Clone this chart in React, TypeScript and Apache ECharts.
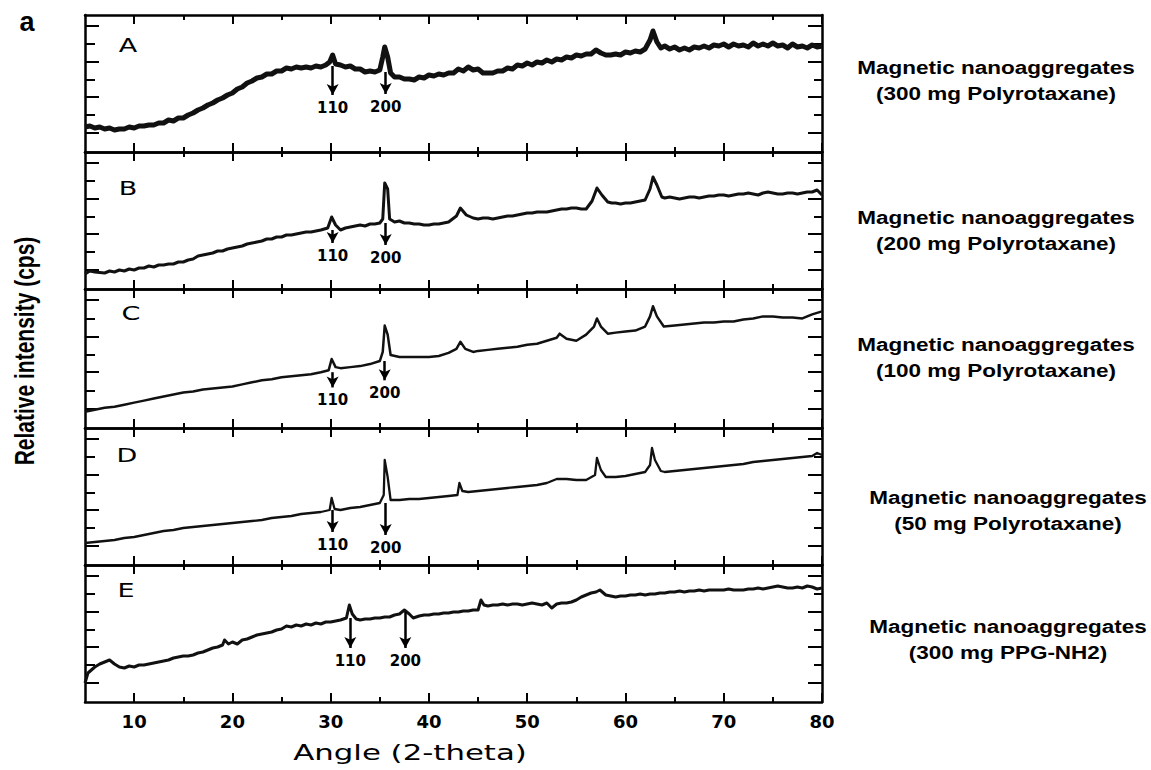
import React, { useEffect, useRef } from "react";
import * as echarts from "echarts";

// ---------- data ----------
const angleMin = 5;
const angleMax = 80;
const majorAngles = [10, 20, 30, 40, 50, 60, 70, 80];
const minorAngles = [15, 25, 35, 45, 55, 65, 75];
const intensityMax = 137;
const majorIntensityTicks = [19, 55, 90, 126];
const minorIntensityTicks = [37, 72, 108];

const panelLetters = ["A", "B", "C", "D", "E"];
const sampleNames = [
  "Magnetic nanoaggregates\n(300 mg Polyrotaxane)",
  "Magnetic nanoaggregates\n(200 mg Polyrotaxane)",
  "Magnetic nanoaggregates\n(100 mg Polyrotaxane)",
  "Magnetic nanoaggregates\n(50 mg Polyrotaxane)",
  "Magnetic nanoaggregates\n(300 mg PPG-NH2)",
];

const traceA: [number, number][] = [
  [5, 25], [5.5, 26], [6, 24], [6.5, 25], [7, 23], [7.5, 24], [8, 22], [8.5, 23], [9, 23], [9.5, 25], [10, 24],
  [10.5, 26], [11, 26], [11.5, 27], [12, 27], [12.5, 29], [13, 29], [13.5, 32], [14, 31], [14.5, 34], [15, 34],
  [15.5, 37], [16, 39], [16.5, 42], [17, 44], [17.5, 47], [18, 49], [18.5, 52], [19, 54], [19.5, 57], [20, 59],
  [20.5, 63], [21, 65], [21.5, 69], [22, 71], [22.5, 74], [23, 75], [23.5, 78], [24, 78], [24.5, 81], [25, 81],
  [25.5, 84], [26, 83], [26.5, 85], [27, 84], [27.5, 85], [28, 84], [28.5, 86], [29, 85], [29.5, 87], [29.9, 90],
  [30.2, 97], [30.5, 88], [31, 87], [31.5, 85], [32, 86], [32.5, 83], [33, 83], [33.5, 80], [34, 81], [34.5, 80],
  [35, 82], [35.3, 95], [35.5, 105], [35.8, 95], [36.1, 79], [36.5, 75], [37, 75], [37.5, 73], [38, 73], [38.5, 72],
  [39, 75], [39.5, 74], [40, 77], [40.5, 76], [41, 78], [41.5, 77], [42, 79], [42.5, 79], [43, 83], [43.5, 81],
  [44, 85], [44.5, 82], [45, 83], [45.5, 79], [46, 79], [46.5, 79], [47, 81], [47.5, 81], [48, 84], [48.5, 83],
  [49, 87], [49.5, 86], [50, 89], [50.5, 87], [51, 90], [51.5, 89], [52, 92], [52.5, 90], [53, 93], [53.5, 92],
  [54, 95], [54.5, 94], [55, 97], [55.5, 96], [56, 98], [56.5, 98], [57, 102], [57.5, 99], [58, 97], [58.5, 97],
  [59, 98], [59.5, 97], [60, 100], [60.5, 99], [61, 101], [61.5, 100], [62, 103], [62.5, 112], [62.8, 121],
  [63.2, 110], [63.6, 104], [64, 106], [64.5, 103], [65, 105], [65.5, 102], [66, 104], [66.5, 102], [67, 105],
  [67.5, 104], [68, 106], [68.5, 104], [69, 107], [69.5, 106], [70, 108], [70.5, 105], [71, 108], [71.5, 106],
  [72, 107], [72.5, 105], [73, 109], [73.5, 106], [74, 108], [74.5, 106], [75, 109], [75.5, 106], [76, 107],
  [76.5, 104], [77, 108], [77.5, 105], [78, 106], [78.5, 104], [79, 107], [79.5, 105], [80, 106],
];

const traceB: [number, number][] = [
  [5, 15], [5.5, 18], [6, 17], [7, 16], [7.5, 18], [8, 17], [8.5, 19], [9, 18], [9.5, 20], [10, 19], [10.5, 21],
  [11, 21], [11.5, 23], [12, 22], [12.5, 24], [13, 24], [13.5, 25], [14, 25], [14.5, 27], [15, 27], [15.5, 29],
  [16, 30], [16.5, 33], [17, 34], [17.5, 35], [18, 36], [18.5, 38], [19, 38], [19.5, 40], [20, 41], [20.5, 42],
  [21, 43], [21.5, 45], [22, 46], [22.5, 47], [23, 48], [23.5, 50], [24, 50], [24.5, 52], [25, 52], [25.5, 54],
  [26, 54], [26.5, 55], [27, 56], [27.5, 57], [28, 57], [28.5, 58], [29, 59], [29.7, 61], [30.1, 72], [30.5, 64],
  [31, 59], [31.5, 61], [32, 62], [32.5, 63], [33, 64], [33.5, 63], [34, 65], [34.5, 65], [35, 66], [35.3, 70],
  [35.5, 106], [35.8, 100], [36, 70], [36.5, 67], [37, 68], [37.5, 66], [38, 66], [38.5, 65], [39, 65], [39.5, 64],
  [40, 64], [40.5, 65], [41, 65], [41.5, 66], [42, 67], [42.8, 73], [43.2, 81], [43.8, 74], [44.5, 71], [45, 70],
  [45.5, 71], [46, 71], [46.5, 70], [47, 71], [47.5, 72], [48, 73], [48.5, 73], [49, 74], [49.5, 75], [50, 76],
  [50.5, 76], [51, 77], [51.5, 77], [52, 77], [52.5, 78], [53, 79], [53.5, 80], [54, 80], [54.5, 81], [55, 81],
  [55.5, 80], [56, 80], [56.6, 88], [57.1, 101], [57.6, 94], [58.2, 87], [58.6, 86], [59, 86], [59.5, 85],
  [60, 86], [60.5, 86], [61, 87], [61.5, 88], [62, 89], [62.5, 100], [62.8, 112], [63.2, 104], [63.7, 92],
  [64, 91], [64.5, 92], [65, 91], [65.5, 90], [66, 91], [66.5, 92], [67, 92], [67.5, 91], [68, 92], [68.5, 93],
  [69, 93], [69.5, 94], [70, 94], [70.5, 93], [71, 94], [71.5, 95], [72, 95], [72.5, 96], [73, 95], [73.5, 94],
  [74, 96], [74.5, 97], [75, 96], [75.5, 95], [76, 95], [76.5, 96], [77, 96], [77.5, 95], [78, 96], [78.5, 97],
  [79, 97], [79.5, 99], [80, 94],
];

const traceC: [number, number][] = [
  [5, 16], [6, 18], [7, 20], [8, 21], [9, 23], [10, 25], [11, 27], [12, 29], [13, 31], [14, 33], [15, 35],
  [16, 36], [17, 38], [18, 39], [19, 40], [20, 41], [21, 43], [22, 45], [23, 47], [24, 48], [25, 50], [26, 51],
  [27, 52], [28, 53], [29, 55], [29.8, 57], [30.1, 68], [30.5, 60], [31, 59], [32, 60], [33, 61], [34, 63],
  [35, 66], [35.3, 75], [35.5, 101], [35.8, 92], [36.1, 72], [37, 70], [38, 70], [39, 70], [40, 70], [41, 71],
  [42, 74], [42.8, 78], [43.2, 85], [43.7, 78], [44.5, 75], [45, 76], [46, 77], [47, 78], [48, 79], [49, 80],
  [50, 82], [51, 83], [52, 86], [53, 89], [53.3, 93], [54, 88], [55, 86], [56, 92], [56.8, 100], [57.1, 108],
  [57.5, 100], [58.2, 93], [59, 94], [60, 95], [61, 96], [62, 100], [62.5, 110], [62.8, 120], [63.2, 110],
  [63.9, 100], [65, 101], [66, 102], [67, 103], [68, 104], [69, 104], [70, 105], [71, 105], [72, 107], [73, 108],
  [74, 110], [75, 110], [76, 109], [77, 109], [78, 108], [79, 112], [80, 115],
];

const traceD: [number, number][] = [
  [5, 22], [6, 23], [7, 24], [8, 25], [9, 27], [10, 28], [11, 30], [12, 32], [13, 34], [14, 35], [15, 37],
  [16, 38], [17, 39], [18, 40], [19, 41], [20, 42], [21, 43], [22, 44], [23, 45], [24, 47], [25, 48], [26, 49],
  [27, 51], [28, 52], [29, 53], [29.9, 55], [30.1, 67], [30.4, 56], [31, 55], [32, 57], [33, 58], [34, 60],
  [35, 62], [35.4, 70], [35.5, 105], [35.8, 88], [36.1, 65], [37, 65], [38, 66], [39, 66], [40, 67], [41, 68],
  [42, 69], [42.9, 70], [43.1, 82], [43.4, 74], [44, 73], [45, 74], [46, 75], [47, 76], [48, 77], [49, 78],
  [50, 79], [51, 80], [52, 82], [53, 86], [54, 86], [55, 85], [56, 85], [56.9, 90], [57.1, 107], [57.5, 95],
  [58, 88], [59, 88], [60, 89], [61, 91], [62, 93], [62.5, 100], [62.7, 117], [63, 105], [63.6, 94], [64, 93],
  [65, 94], [66, 95], [67, 96], [68, 97], [69, 98], [70, 99], [71, 100], [72, 101], [73, 103], [74, 104],
  [75, 105], [76, 106], [77, 107], [78, 108], [79, 109], [79.5, 112], [80, 110],
];

const traceE: [number, number][] = [
  [5, 19], [5.3, 29], [6, 35], [6.5, 38], [7, 40], [7.5, 42], [8, 38], [8.5, 35], [9, 34], [9.5, 36], [10, 35],
  [10.5, 37], [11, 37], [11.5, 38], [12, 39], [12.5, 40], [13, 41], [13.5, 42], [14, 44], [14.5, 45], [15, 46],
  [15.5, 46], [16, 47], [16.5, 49], [17, 50], [17.5, 52], [18, 54], [18.5, 55], [19, 57], [19.2, 62], [19.6, 58],
  [20, 60], [20.5, 58], [21, 62], [21.5, 63], [22, 65], [22.5, 67], [23, 68], [23.5, 69], [24, 70], [24.5, 72],
  [25, 73], [25.5, 76], [26, 75], [26.5, 77], [27, 76], [27.5, 78], [28, 77], [28.5, 79], [29, 78], [29.5, 80],
  [30, 80], [30.5, 81], [31, 82], [31.6, 84], [31.9, 97], [32.2, 88], [32.6, 83], [33, 82], [33.5, 83], [34, 83],
  [34.5, 84], [35, 84], [35.5, 85], [36, 85], [36.5, 87], [37, 88], [37.5, 92], [38, 88], [38.4, 84], [39, 86],
  [39.5, 87], [40, 87], [40.5, 88], [41, 88], [41.5, 89], [42, 89], [42.5, 90], [43, 90], [43.5, 91], [44, 91],
  [44.5, 92], [45, 92], [45.3, 102], [45.6, 97], [46, 96], [46.5, 97], [47, 97], [47.5, 98], [48, 97], [48.5, 98],
  [49, 98], [49.5, 97], [50, 98], [50.5, 99], [51, 98], [51.5, 97], [52, 99], [52.5, 94], [53, 98], [53.5, 99],
  [54, 99], [54.5, 100], [55, 102], [55.5, 105], [56, 107], [56.5, 109], [57, 110], [57.4, 112], [58, 107],
  [58.5, 106], [59, 105], [59.5, 106], [60, 106], [60.5, 107], [61, 107], [61.5, 108], [62, 107], [62.5, 108],
  [63, 108], [63.5, 109], [64, 109], [64.5, 110], [65, 110], [65.5, 111], [66, 110], [66.5, 111], [67, 111],
  [67.5, 112], [68, 111], [68.5, 112], [69, 112], [69.5, 112], [70, 112], [70.5, 113], [71, 112], [71.5, 112],
  [72, 112], [72.5, 113], [73, 113], [73.5, 114], [74, 113], [74.5, 114], [75, 115], [75.5, 116], [76, 115],
  [76.5, 114], [77, 114], [77.5, 115], [78, 114], [78.5, 116], [79, 115], [79.5, 113], [80, 114],
];

const traces = [traceA, traceB, traceC, traceD, traceE];

// reflection arrows: [angle, from intensity, to intensity]
const arrows110: [number, number, number][] = [
  [30.2, 86, 57], [30.2, 59, 46], [30.2, 55, 40], [30.2, 55, 33], [32.0, 84, 54],
];
const arrows200: [number, number, number][] = [
  [35.6, 80, 58], [35.6, 66, 44], [35.5, 66, 47], [35.6, 62, 30], [37.6, 90, 54],
];

// ---------- layout ----------
const gridTops = [15, 152, 289, 428, 565];
const gridHeights = [137, 137, 139, 137, 137];
const gridLeft = 85;
const gridWidth = 737;
const lineWidths = [5, 3, 2.5, 2.3, 3];
const letterPos = [[128, 45], [128, 188], [131, 313], [127, 455], [126, 590]];
const namePos = [[996, 81], [996, 231], [996, 358], [1008, 511], [1008, 640]];

const BLACK = "#000";

export default function App() {
  const ref = useRef<HTMLDivElement>(null);

  useEffect(() => {
    document.body.style.margin = "0";
    if (!ref.current) return;
    const chart = echarts.init(ref.current, undefined, { renderer: "svg" });

    const grids: any[] = [];
    const xAxes: any[] = [];
    const yAxes: any[] = [];
    const series: any[] = [];
    const tickLine = { color: BLACK, width: 2 };
    const frameLine = { color: BLACK, width: 2.5 };

    for (let i = 0; i < 5; i++) {
      grids.push({ left: gridLeft, width: gridWidth, top: gridTops[i], height: gridHeights[i] });
      const xb = { type: "value", gridIndex: i, min: angleMin, max: angleMax, splitLine: { show: false } };
      xAxes.push({
        ...xb,
        position: "bottom",
        axisLine: { show: true, onZero: false, lineStyle: frameLine },
        axisTick: { show: true, inside: true, length: 9, customValues: majorAngles, lineStyle: tickLine },
        axisLabel:
          i === 4
            ? {
                show: true,
                customValues: majorAngles,
                fontFamily: "DejaVu Sans",
                fontWeight: "bold",
                fontSize: 18,
                color: BLACK,
                margin: 10,
              }
            : { show: false },
      });
      xAxes.push({
        ...xb,
        position: "bottom",
        axisLine: { show: false, onZero: false },
        axisTick: { show: true, inside: true, length: 5, customValues: minorAngles, lineStyle: tickLine },
        axisLabel: { show: false },
      });
      xAxes.push({
        ...xb,
        position: "top",
        axisLine: { show: true, onZero: false, lineStyle: frameLine },
        axisTick: { show: true, inside: true, length: 9, customValues: majorAngles, lineStyle: tickLine },
        axisLabel: { show: false },
      });
      xAxes.push({
        ...xb,
        position: "top",
        axisLine: { show: false, onZero: false },
        axisTick: { show: true, inside: true, length: 5, customValues: minorAngles, lineStyle: tickLine },
        axisLabel: { show: false },
      });

      const yb = { type: "value", gridIndex: i, min: 0, max: intensityMax, splitLine: { show: false }, axisLabel: { show: false } };
      yAxes.push({
        ...yb,
        position: "left",
        axisLine: { show: true, onZero: false, lineStyle: frameLine },
        axisTick: { show: true, inside: true, length: 14, customValues: majorIntensityTicks, lineStyle: tickLine },
      });
      yAxes.push({
        ...yb,
        position: "left",
        axisLine: { show: false, onZero: false },
        axisTick: { show: true, inside: true, length: 10, customValues: minorIntensityTicks, lineStyle: tickLine },
      });
      yAxes.push({
        ...yb,
        position: "right",
        axisLine: { show: true, onZero: false, lineStyle: frameLine },
        axisTick: { show: true, inside: true, length: 14, customValues: majorIntensityTicks, lineStyle: tickLine },
      });
      yAxes.push({
        ...yb,
        position: "right",
        axisLine: { show: false, onZero: false },
        axisTick: { show: true, inside: true, length: 8, customValues: minorIntensityTicks, lineStyle: tickLine },
      });

      const a1 = arrows110[i];
      const a2 = arrows200[i];
      series.push({
        type: "line",
        name: panelLetters[i],
        xAxisIndex: i * 4,
        yAxisIndex: i * 4,
        data: traces[i],
        showSymbol: false,
        symbol: "none",
        lineStyle: { color: "#111", width: lineWidths[i], join: "round" },
        clip: true,
        markLine: {
          silent: true,
          symbol: ["none", "arrow"],
          symbolSize: [9, 11],
          lineStyle: { color: BLACK, width: 2.5, type: "solid" },
          label: {
            show: true,
            position: "end",
            distance: 5,
            formatter: (p: any) => p.name,
            fontFamily: "DejaVu Sans",
            fontWeight: "bold",
            fontSize: 15,
            color: BLACK,
          },
          data: [
            [{ coord: [a1[0], a1[1]], name: "110" }, { coord: [a1[0], a1[2]] }],
            [{ coord: [a2[0], a2[1]], name: "200" }, { coord: [a2[0], a2[2]] }],
          ],
        },
      });
    }

    const center = { align: "center", verticalAlign: "middle", textAlign: "center", textVerticalAlign: "middle" };
    const graphics: any[] = [];
    graphics.push({
      type: "text",
      x: 27,
      y: 22,
      style: {
        text: "a",
        fontFamily: "Liberation Sans, Arial, sans-serif",
        fontWeight: "bold",
        fontSize: 27,
        fill: BLACK,
        ...center,
      },
    });
    for (let i = 0; i < 5; i++) {
      graphics.push({
        type: "text",
        x: letterPos[i][0],
        y: letterPos[i][1],
        scaleX: 1.35,
        style: {
          text: panelLetters[i],
          fontFamily: "DejaVu Sans",
          fontWeight: "normal",
          fontSize: 20,
          fill: BLACK,
          ...center,
        },
      });
      graphics.push({
        type: "text",
        x: namePos[i][0],
        y: namePos[i][1],
        scaleX: 1.25,
        style: {
          text: sampleNames[i],
          fontFamily: "Liberation Sans, Arial, sans-serif",
          fontWeight: "bold",
          fontSize: 18,
          lineHeight: 26,
          fill: BLACK,
          ...center,
        },
      });
    }
    graphics.push({
      type: "text",
      x: 25,
      y: 351,
      rotation: Math.PI / 2,
      scaleY: 1.28,
      style: {
        text: "Relative intensity (cps)",
        fontFamily: "Liberation Sans, Arial, sans-serif",
        fontWeight: "bold",
        fontSize: 21,
        fill: BLACK,
        ...center,
      },
    });
    graphics.push({
      type: "text",
      x: 410,
      y: 752,
      scaleX: 1.4,
      style: {
        text: "Angle (2-theta)",
        fontFamily: "DejaVu Sans",
        fontWeight: "normal",
        fontSize: 22,
        fill: BLACK,
        ...center,
      },
    });

    chart.setOption({
      animation: false,
      backgroundColor: "#fff",
      grid: grids,
      xAxis: xAxes,
      yAxis: yAxes,
      series,
      graphic: { elements: graphics },
    });

    return () => chart.dispose();
  }, []);

  return <div ref={ref} style={{ width: 1151, height: 770 }} />;
}
